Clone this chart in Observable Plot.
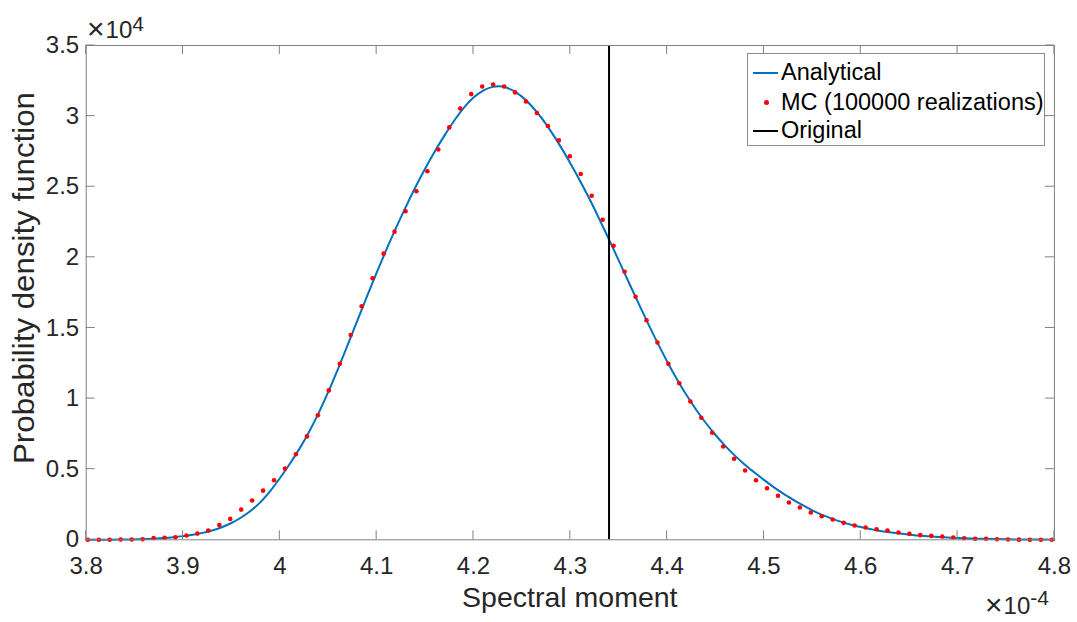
<!DOCTYPE html>
<html>
<head>
<meta charset="utf-8">
<script src="https://cdn.jsdelivr.net/npm/d3@7"></script>
<script src="https://cdn.jsdelivr.net/npm/@observablehq/plot@0.6"></script>
<style>
  html, body { margin: 0; padding: 0; background: #fff; }
  #wrap { position: relative; width: 1077px; height: 622px; font-family: "Liberation Sans", Arial, Helvetica, sans-serif; color: #262626; }
  .legend { position: absolute; left: 747px; top: 53px; width: 298px; height: 93px; box-sizing: border-box; border: 1px solid #8c8c8c; background: #fff; }
  .row { position: absolute; left: 0; height: 28px; width: 100%; }
  .row .lbl { position: absolute; left: 33px; top: 50%; transform: translateY(-50%); font-size: 23.5px; line-height: 1; white-space: nowrap; color: #000; }
  .row .ln { position: absolute; left: 5px; width: 25px; top: 50%; height: 2px; margin-top: -1px; }
  .row .pt { position: absolute; left: 16px; width: 5px; height: 5px; top: 50%; margin-top: -2.5px; border-radius: 50%; background: #ff0000; }
</style>
</head>
<body>
<div id="wrap"></div>
<script>
// ---- Data (x in units of 1e-4, y in units of 1e4) ----
const xTicks = [3.8, 3.9, 4.0, 4.1, 4.2, 4.3, 4.4, 4.5, 4.6, 4.7, 4.8];
const yTicks = [0, 0.5, 1, 1.5, 2, 2.5, 3, 3.5];
const originalValue = 4.34;

// Analytical PDF curve
const analyticalX = [3.80, 3.82, 3.84, 3.86, 3.87, 3.88, 3.89, 3.90, 3.91, 3.92, 3.93, 3.94, 3.95, 3.96, 3.97, 3.98, 3.99,
  4.00, 4.01, 4.02, 4.03, 4.04, 4.05, 4.06, 4.07, 4.08, 4.09, 4.10, 4.11, 4.12, 4.13, 4.14, 4.15, 4.16, 4.17, 4.18, 4.19,
  4.20, 4.21, 4.22, 4.23, 4.24, 4.25, 4.26, 4.27, 4.28, 4.29, 4.30, 4.31, 4.32, 4.33, 4.34, 4.35, 4.36, 4.37, 4.38, 4.39,
  4.40, 4.41, 4.42, 4.43, 4.44, 4.45, 4.46, 4.47, 4.48, 4.49, 4.50, 4.51, 4.52, 4.53, 4.54, 4.55, 4.56, 4.57, 4.58, 4.59,
  4.60, 4.61, 4.62, 4.63, 4.64, 4.65, 4.66, 4.67, 4.68, 4.69, 4.70, 4.72, 4.74, 4.76, 4.78, 4.80];
const analyticalY = [0.000, 0.001, 0.002, 0.005, 0.008, 0.012, 0.018, 0.026, 0.036, 0.049, 0.066, 0.089, 0.119, 0.158, 0.206, 0.267, 0.345,
  0.436, 0.535, 0.642, 0.762, 0.897, 1.047, 1.209, 1.379, 1.552, 1.724, 1.892, 2.054, 2.209, 2.356, 2.496, 2.628, 2.750, 2.862, 2.967, 3.059,
  3.131, 3.181, 3.207, 3.209, 3.184, 3.138, 3.072, 2.989, 2.892, 2.784, 2.667, 2.543, 2.411, 2.271, 2.126, 1.978, 1.829, 1.681, 1.536, 1.396,
  1.263, 1.139, 1.025, 0.921, 0.827, 0.742, 0.665, 0.596, 0.534, 0.478, 0.424, 0.373, 0.327, 0.285, 0.245, 0.208, 0.176, 0.150, 0.127, 0.107,
  0.090, 0.076, 0.063, 0.053, 0.044, 0.037, 0.030, 0.025, 0.020, 0.016, 0.013, 0.008, 0.005, 0.003, 0.002, 0.001];

// Monte Carlo histogram points (100000 realizations)
const mcX = [3.8017, 3.8130, 3.8243, 3.8356, 3.8470, 3.8583, 3.8696, 3.8809, 3.8922, 3.9035, 3.9148, 3.9261, 3.9375, 3.9488,
  3.9601, 3.9714, 3.9827, 3.9940, 4.0053, 4.0166, 4.0280, 4.0393, 4.0506, 4.0619, 4.0732, 4.0845, 4.0958, 4.1072, 4.1185,
  4.1298, 4.1411, 4.1524, 4.1637, 4.1750, 4.1863, 4.1977, 4.2090, 4.2203, 4.2316, 4.2429, 4.2542, 4.2655, 4.2769, 4.2882,
  4.2995, 4.3108, 4.3221, 4.3334, 4.3447, 4.3561, 4.3674, 4.3787, 4.3900, 4.4013, 4.4126, 4.4240, 4.4353, 4.4466, 4.4579,
  4.4692, 4.4805, 4.4918, 4.5032, 4.5145, 4.5258, 4.5371, 4.5484, 4.5597, 4.5710, 4.5823, 4.5937, 4.6050, 4.6163, 4.6276,
  4.6389, 4.6502, 4.6615, 4.6729, 4.6842, 4.6955, 4.7068, 4.7181, 4.7294, 4.7407, 4.7521, 4.7634, 4.7747, 4.7860, 4.7973];
const mcY = [0.000, 0.000, 0.000, 0.002, 0.002, 0.004, 0.012, 0.014, 0.018, 0.030, 0.044, 0.066, 0.104, 0.148,
  0.214, 0.278, 0.348, 0.422, 0.504, 0.606, 0.732, 0.882, 1.058, 1.246, 1.450, 1.654, 1.852, 2.026, 2.182,
  2.326, 2.468, 2.610, 2.764, 2.920, 3.054, 3.156, 3.210, 3.224, 3.210, 3.168, 3.104, 3.022, 2.930, 2.828,
  2.716, 2.590, 2.436, 2.266, 2.082, 1.898, 1.721, 1.555, 1.397, 1.246, 1.109, 0.979, 0.864, 0.758, 0.661,
  0.574, 0.491, 0.422, 0.365, 0.312, 0.264, 0.229, 0.193, 0.167, 0.144, 0.120, 0.101, 0.087, 0.075, 0.066,
  0.052, 0.042, 0.033, 0.028, 0.023, 0.016, 0.011, 0.007, 0.007, 0.004, 0.002, 0.001, 0.000, 0.000, 0.000];

const seriesNames = ["Analytical", "MC (100000 realizations)", "Original"];
const xLabel = "Spectral moment";
const yLabel = "Probability density function";

// ---- Build tables ----
const analytical = analyticalX.map((x, i) => ({x, y: analyticalY[i]}));
const mc = mcX.map((x, i) => ({x, y: mcY[i]}));

const axisColor = "#808080";
const textColor = "#262626";
const font = '"Liberation Sans", Arial, Helvetica, sans-serif';

const chart = Plot.plot({
  width: 1077,
  height: 622,
  marginLeft: 85.7,
  marginRight: 23.1,
  marginTop: 45,
  marginBottom: 82.7,
  style: {fontFamily: font, fontSize: "24px", color: textColor, background: "#fff", overflow: "visible"},
  x: {domain: [3.8, 4.8]},
  y: {domain: [0, 3.5]},
  marks: [
    Plot.axisX(xTicks, {tickSize: 0, tickPadding: 17, fontSize: 24, label: null, tickFormat: d => d3.format("~g")(d)}),
    Plot.axisY(yTicks, {tickSize: 0, tickPadding: 7, fontSize: 24, label: null, tickFormat: d => d3.format("~g")(d)}),
    Plot.line(analytical, {x: "x", y: "y", stroke: "#0072BD", strokeWidth: 2, curve: "catmull-rom"}),
    Plot.dot(mc, {x: "x", y: "y", r: 2.3, fill: "#ff0000", stroke: "none"}),
    Plot.ruleX([originalValue], {stroke: "#000", strokeWidth: 2}),
    Plot.frame({stroke: axisColor, strokeWidth: 1})
  ]
});

document.getElementById("wrap").appendChild(chart);

// ---- Inward ticks on all four sides, positioned by Plot's scales ----
const sx = chart.scale("x"), sy = chart.scale("y");
const svg = d3.select(chart);
const [x0, x1] = sx.range, [y0, y1] = sy.range; // y0 bottom, y1 top
const tl = 9;
const g = svg.append("g").attr("stroke", axisColor).attr("stroke-width", 1);
xTicks.forEach(v => {
  const px = sx.apply(v);
  g.append("line").attr("x1", px).attr("x2", px).attr("y1", y0).attr("y2", y0 - tl);
  g.append("line").attr("x1", px).attr("x2", px).attr("y1", y1).attr("y2", y1 + tl);
});
yTicks.forEach(v => {
  const py = sy.apply(v);
  g.append("line").attr("y1", py).attr("y2", py).attr("x1", x0).attr("x2", x0 + tl);
  g.append("line").attr("y1", py).attr("y2", py).attr("x1", x1).attr("x2", x1 - tl);
});

// ---- Axis labels ----
svg.append("text").attr("x", (x0 + x1) / 2).attr("y", 607).attr("text-anchor", "middle")
  .attr("font-family", font).attr("font-size", 28.5).attr("fill", textColor).text(xLabel);
svg.append("text").attr("transform", `translate(34,278) rotate(-90)`).attr("text-anchor", "middle")
  .attr("font-family", font).attr("font-size", 29).attr("fill", textColor)
  .attr("textLength", 372).attr("lengthAdjust", "spacingAndGlyphs").text(yLabel);

// ---- Exponent multipliers ----
function multiplier(x, y, exp, sup) {
  const t = svg.append("text").attr("x", x).attr("y", y).attr("text-anchor", "start")
    .attr("font-family", font).attr("font-size", 24).attr("fill", textColor);
  t.append("tspan").text("\u00d7").attr("font-size", 30).attr("dy", 1);
  t.append("tspan").text("10").attr("dx", 1).attr("dy", -1);
  t.append("tspan").text(exp).attr("font-size", 21).attr("dy", sup);
}
multiplier(87, 38, "4", -7);
multiplier(985, 614, "-4", -9);

// ---- Legend ----
const legend = document.createElement("div");
legend.className = "legend";
const rowsTop = [4.5, 34.5, 63];
const samples = [
  '<div class="ln" style="background:#0072BD"></div>',
  '<div class="pt"></div>',
  '<div class="ln" style="background:#000"></div>'
];
seriesNames.forEach((name, i) => {
  const r = document.createElement("div");
  r.className = "row";
  r.style.top = rowsTop[i] + "px";
  r.innerHTML = samples[i] + '<span class="lbl"></span>';
  r.querySelector(".lbl").textContent = name;
  legend.appendChild(r);
});
document.getElementById("wrap").appendChild(legend);
</script>
</body>
</html>
